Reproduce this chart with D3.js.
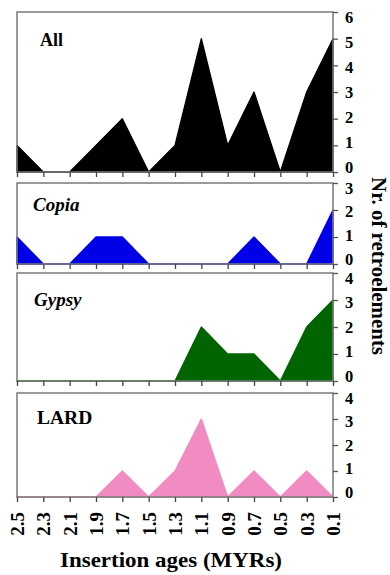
<!DOCTYPE html>
<html>
<head>
<meta charset="utf-8">
<script src="https://cdn.jsdelivr.net/npm/d3@7"></script>
<style>
  body { margin: 0; background: #fff; }
</style>
</head>
<body>
<svg id="chart" width="390" height="575"></svg>
<script>
// data
const ages = [2.5, 2.3, 2.1, 1.9, 1.7, 1.5, 1.3, 1.1, 0.9, 0.7, 0.5, 0.3, 0.1];
const allCounts = [1, 0, 0, 1, 2, 0, 1, 5, 1, 3, 0, 3, 5];
const copiaCounts = [1, 0, 0, 1, 1, 0, 0, 0, 0, 1, 0, 0, 2];
const gypsyCounts = [0, 0, 0, 0, 0, 0, 0, 2, 1, 1, 0, 2, 3];
const lardCounts = [0, 0, 0, 0, 1, 0, 1, 3, 0, 1, 0, 1, 0];
const panelNames = ['All', 'Copia', 'Gypsy', 'LARD'];
const panelMax = [6, 3, 4, 4];

// layout
const FONT = 'Liberation Serif';
const left = 17, right = 333;
const tops = [12, 183, 273, 393];
const bottoms = [172, 264, 381, 497];
const colors = ['#000000', '#0000e6', '#006400', '#f08cc2'];
const italic = [false, true, true, false];
const labelPos = [[40, 45.5, 18], [33, 211, 19], [34, 306, 19], [37, 424, 19.5]];

const series = [allCounts, copiaCounts, gypsyCounts, lardCounts];
const svg = d3.select('#chart');

const x = d3.scaleLinear().domain([2.5, 0.1]).range([left, right]);

series.forEach((vals, p) => {
  const top = tops[p], bottom = bottoms[p];
  const max = panelMax[p];
  const y = d3.scaleLinear().domain([0, max]).range([bottom, top]);
  const g = svg.append('g');

  const area = d3.area()
    .x((d, i) => x(ages[i]))
    .y0(bottom)
    .y1(d => y(d));

  g.append('path')
    .datum(vals)
    .attr('d', area)
    .attr('fill', colors[p])
    .attr('stroke', colors[p])
    .attr('stroke-width', 1.3)
    .attr('stroke-linejoin', 'round');

  // frame
  g.append('rect')
    .attr('x', left)
    .attr('y', top)
    .attr('width', right - left)
    .attr('height', bottom - top)
    .attr('fill', 'none')
    .attr('stroke', '#7a7a7a')
    .attr('stroke-width', 1.5);

  // right axis, labels pulled a little toward the middle like the original
  const ya = g.append('g')
    .attr('transform', `translate(${right},0)`)
    .call(d3.axisRight(y).ticks(max).tickSize(5).tickPadding(7).tickFormat(d3.format('d')));
  ya.select('.domain').remove();
  ya.selectAll('line').attr('stroke', '#555').attr('stroke-width', 1.3);
  ya.selectAll('text')
    .attr('fill', '#000')
    .attr('font-family', FONT)
    .attr('font-weight', 'bold')
    .attr('font-size', 16.5)
    .attr('y', d => -5 + 10 * d / max);

  // bottom ticks
  const xa = g.append('g')
    .attr('transform', `translate(0,${bottom})`)
    .call(d3.axisBottom(x).tickValues(ages).tickSize(5)
      .tickFormat(p === 3 ? d3.format('.1f') : ''));
  xa.select('.domain').remove();
  xa.selectAll('line').attr('stroke', '#444').attr('stroke-width', 1.3);
  xa.selectAll('text')
    .attr('fill', '#000')
    .attr('transform', 'rotate(-90)')
    .attr('x', -15)
    .attr('y', 0)
    .attr('dy', '0.35em')
    .attr('text-anchor', 'end')
    .attr('font-family', FONT)
    .attr('font-weight', 'bold')
    .attr('font-size', 19);

  // panel name
  g.append('text')
    .attr('x', labelPos[p][0])
    .attr('y', labelPos[p][1])
    .attr('font-family', FONT)
    .attr('font-weight', 'bold')
    .attr('font-size', labelPos[p][2])
    .attr('font-style', italic[p] ? 'italic' : 'normal')
    .text(panelNames[p]);
});

// axis titles
svg.append('text')
  .attr('transform', 'translate(379,266) rotate(90)')
  .attr('text-anchor', 'middle')
  .attr('dy', '0.35em')
  .attr('font-family', FONT)
  .attr('font-weight', 'bold')
  .attr('font-size', 20)
  .attr('textLength', 178)
  .attr('lengthAdjust', 'spacingAndGlyphs')
  .text('Nr. of retroelements');

svg.append('text')
  .attr('x', 171)
  .attr('y', 567)
  .attr('text-anchor', 'middle')
  .attr('font-family', FONT)
  .attr('font-weight', 'bold')
  .attr('font-size', 21)
  .attr('textLength', 222)
  .attr('lengthAdjust', 'spacingAndGlyphs')
  .text('Insertion ages (MYRs)');
</script>
</body>
</html>
